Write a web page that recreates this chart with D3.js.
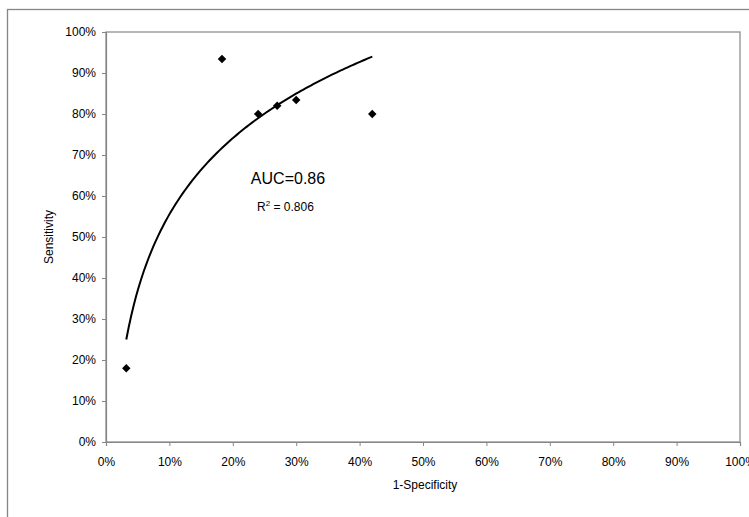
<!DOCTYPE html>
<html>
<head>
<meta charset="utf-8">
<script src="https://cdn.jsdelivr.net/npm/d3@7"></script>
<style>
  body { margin: 0; background: #fff; }
  svg text { font-family: "Liberation Sans", Arial, sans-serif; fill: #000; }
</style>
</head>
<body>
<div id="chart"></div>
<script>
// 1-specificity and sensitivity of each point
const falsePos = [0.032, 0.183, 0.24, 0.27, 0.30, 0.42];
const sensitivity = [0.18, 0.934, 0.80, 0.82, 0.834, 0.80];
const tickValues = [0, 0.1, 0.2, 0.3, 0.4, 0.5, 0.6, 0.7, 0.8, 0.9, 1];
const aucLabel = 'AUC=0.86';
const r2Value = '0.806';

document.addEventListener('DOMContentLoaded', function() {
    const W = 749, H = 517;
    const margin = { top: 32, right: 9, bottom: 75, left: 106 },
        width = 740 - margin.left,
        height = 442 - margin.top;

    const svg = d3.select('#chart')
        .append('svg')
        .attr('width', W)
        .attr('height', H);

    // outer chart frame (runs past the right/bottom edge)
    svg.append('rect')
        .attr('x', 7.5).attr('y', 9.5)
        .attr('width', 760).attr('height', 540)
        .attr('fill', 'none')
        .attr('stroke', '#868686')
        .attr('stroke-width', 1.3);

    const g = svg.append('g')
        .attr('transform', `translate(${margin.left},${margin.top})`);

    const x = d3.scaleLinear().domain([0, 1]).range([0, width]);
    const y = d3.scaleLinear().domain([0, 1]).range([height, 0]);

    // plot area border
    g.append('rect')
        .attr('width', width).attr('height', height)
        .attr('fill', 'none')
        .attr('stroke', '#868686')
        .attr('stroke-width', 1.2);

    const fmt = d3.format('.0%');

    g.append('g')
        .attr('transform', `translate(0,${height})`)
        .call(d3.axisBottom(x).tickValues(tickValues).tickFormat(fmt).tickSize(4).tickPadding(11))
        .call(a => a.select('.domain').attr('stroke', '#868686').attr('stroke-width', 1.2))
        .call(a => a.selectAll('line').attr('stroke', '#868686'))
        .selectAll('text').style('font-size', '12px');

    g.append('g')
        .call(d3.axisLeft(y).tickValues(tickValues).tickFormat(fmt).tickSize(4).tickPadding(6))
        .call(a => a.select('.domain').attr('stroke', '#868686').attr('stroke-width', 1.2))
        .call(a => a.selectAll('line').attr('stroke', '#868686'))
        .selectAll('text').style('font-size', '12px');

    // axis titles
    svg.append('text')
        .attr('x', 425)
        .attr('y', 489)
        .attr('text-anchor', 'middle')
        .style('font-size', '12px')
        .text('1-Specificity');

    svg.append('text')
        .attr('transform', `translate(53,${margin.top + height / 2}) rotate(-90)`)
        .attr('text-anchor', 'middle')
        .style('font-size', '12px')
        .text('Sensitivity');

    // logarithmic trendline fitted to the points
    const lx = falsePos.map(Math.log);
    const mx = d3.mean(lx), my = d3.mean(sensitivity);
    let sxy = 0, sxx = 0;
    lx.forEach((v, i) => { sxy += (v - mx) * (sensitivity[i] - my); sxx += (v - mx) * (v - mx); });
    const slope = sxy / sxx, intercept = my - slope * mx;
    const [x0, x1] = d3.extent(falsePos);
    const curve = d3.range(0, 101).map(i => {
        const xv = x0 + (x1 - x0) * i / 100;
        return [xv, slope * Math.log(xv) + intercept];
    });

    g.append('path')
        .datum(curve)
        .attr('fill', 'none')
        .attr('stroke', '#000')
        .attr('stroke-width', 2)
        .attr('d', d3.line().x(d => x(d[0])).y(d => y(d[1])));

    // diamond markers
    g.selectAll('.pt')
        .data(falsePos.map((v, i) => [v, sensitivity[i]]))
        .enter()
        .append('path')
        .attr('class', 'pt')
        .attr('d', d3.symbol(d3.symbolSquare, 36))
        .attr('transform', d => `translate(${x(d[0])},${y(d[1])}) rotate(45)`)
        .attr('fill', '#000');

    // annotations
    svg.append('text')
        .attr('x', 288).attr('y', 184)
        .attr('text-anchor', 'middle')
        .style('font-size', '16px')
        .text(aucLabel);

    const r2 = svg.append('text')
        .attr('x', 257).attr('y', 211)
        .style('font-size', '12px');
    r2.append('tspan').text('R');
    r2.append('tspan').attr('dy', -5).style('font-size', '8px').text('2');
    r2.append('tspan').attr('dy', 5).text(' = ' + r2Value);
});
</script>
</body>
</html>
